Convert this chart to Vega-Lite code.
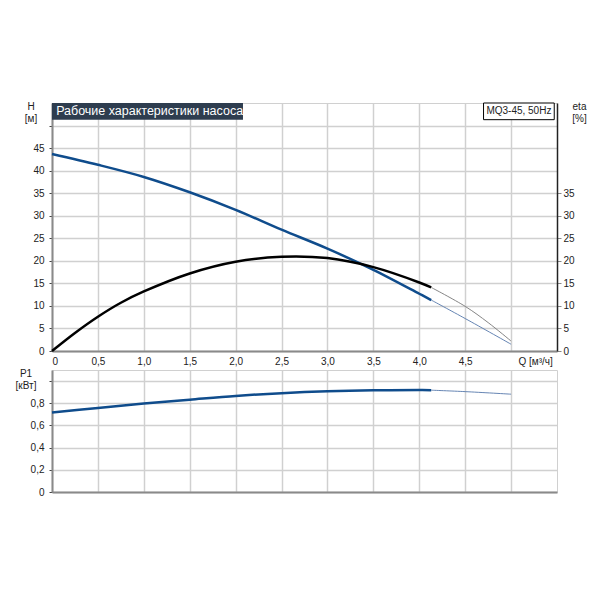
{
  "$schema": "https://vega.github.io/schema/vega-lite/v6.json",
  "padding": {"left": 14, "top": 100, "right": 0, "bottom": 0},
  "background": "white",
  "config": {
    "view": {"stroke": "#d0d0d0", "strokeWidth": 1},
    "concat": {"spacing": 0},
    "font": "Liberation Sans",
    "axis": {
      "labelFont": "Liberation Sans", "labelFontSize": 10, "labelColor": "#222", "labelOverlap": false,
      "titleFont": "Liberation Sans", "titleFontSize": 10, "titleFontWeight": "normal", "titleColor": "#222",
      "gridColor": "#d0d0d0", "gridWidth": 1.5, "domainColor": "#8a8a8a", "domainWidth": 2
    }
  },
  "datasets": {
    "H_main": [{"q":0,"h":43.7},{"q":0.5,"h":41.3},{"q":1.0,"h":38.6},{"q":1.5,"h":35.2},{"q":2.0,"h":31.3},{"q":2.5,"h":26.9},{"q":3.0,"h":22.7},{"q":3.5,"h":18.0},{"q":4.0,"h":12.7},{"q":4.13,"h":11.3}],
    "H_ext": [{"q":4.13,"h":11.3},{"q":4.5,"h":7.2},{"q":5.0,"h":1.5}],
    "E_main": [{"q":0,"eta":0},{"q":0.25,"eta":4.0},{"q":0.5,"eta":7.6},{"q":0.75,"eta":10.7},{"q":1.0,"eta":13.2},{"q":1.5,"eta":17.2},{"q":2.0,"eta":19.8},{"q":2.5,"eta":20.9},{"q":3.0,"eta":20.6},{"q":3.5,"eta":18.6},{"q":4.0,"eta":15.2},{"q":4.13,"eta":14.1}],
    "E_ext": [{"q":4.13,"eta":14.1},{"q":4.5,"eta":9.9},{"q":4.75,"eta":6.3},{"q":5.0,"eta":2.2}],
    "P_main": [{"q":0,"p":0.717},{"q":0.5,"p":0.757},{"q":1.0,"p":0.797},{"q":1.5,"p":0.832},{"q":2.0,"p":0.866},{"q":2.5,"p":0.891},{"q":3.0,"p":0.908},{"q":3.5,"p":0.917},{"q":4.0,"p":0.919},{"q":4.13,"p":0.918}],
    "P_ext": [{"q":4.13,"p":0.918},{"q":4.5,"p":0.905},{"q":5.0,"p":0.882}],
    "ann": [{"title":"Рабочие характеристики насоса","legend":"MQ3-45, 50Hz"}]
  },
  "vconcat": [
    {
      "width": 505,
      "height": 248,
      "resolve": {"axis": {"y": "independent"}},
      "layer": [
        {
          "data": {"name": "H_main"},
          "mark": {"type": "line", "color": "#0f4c8c", "strokeWidth": 2.5, "interpolate": "catmull-rom"},
          "encoding": {
            "x": {"field": "q", "type": "quantitative", "scale": {"domain": [0, 5.5], "nice": false},
              "axis": {"values": [0,0.5,1,1.5,2,2.5,3,3.5,4,4.5,5], "tickCount": 30, "ticks": false, "labelPadding": 5,
                "labelExpr": "datum.value == 0 ? '0' : (datum.value >= 5 ? '' : replace(format(datum.value, '.1f'), '.', ','))",
                "title": "Q [м³/ч]", "titleFontSize": 10, "titleX": 466, "titleY": 5, "titleAlign": "left", "titleBaseline": "top", "titleAnchor": "start"}},
            "y": {"field": "h", "type": "quantitative", "scale": {"domain": [0, 55], "nice": false},
              "axis": {"orient": "left", "values": [0,5,10,15,20,25,30,35,40,45,50], "tickCount": 30, "tickSize": 3, "tickColor": "#444", "labelPadding": 5,
                "labelExpr": "datum.value >= 50 ? '' : datum.label",
                "title": ["H", "[м]"], "titleAngle": 0, "titleX": -21.5, "titleY": -2, "titleAlign": "center", "titleBaseline": "top", "titleLineHeight": 12}}
          }
        },
        {
          "data": {"name": "H_ext"},
          "mark": {"type": "line", "color": "#5577aa", "strokeWidth": 0.9, "interpolate": "catmull-rom"},
          "encoding": {
            "x": {"field": "q", "type": "quantitative"},
            "y": {"field": "h", "type": "quantitative", "axis": null}
          }
        },
        {
          "data": {"name": "E_main"},
          "mark": {"type": "line", "color": "#000000", "strokeWidth": 2.5, "interpolate": "catmull-rom"},
          "encoding": {
            "x": {"field": "q", "type": "quantitative"},
            "y": {"field": "eta", "type": "quantitative",
              "axis": {"orient": "right", "values": [0,5,10,15,20,25,30,35], "tickCount": 30, "grid": false, "tickSize": 4, "tickColor": "#888", "labelPadding": 2,
                "domainColor": "#222", "domainWidth": 1.5,
                "title": ["eta", "[%]"], "titleAngle": 0, "titleX": 22, "titleY": -2, "titleAlign": "center", "titleBaseline": "top", "titleLineHeight": 12}}
          }
        },
        {
          "data": {"name": "E_ext"},
          "mark": {"type": "line", "color": "#777777", "strokeWidth": 0.9, "interpolate": "catmull-rom"},
          "encoding": {
            "x": {"field": "q", "type": "quantitative"},
            "y": {"field": "eta", "type": "quantitative", "axis": null}
          }
        },
        {
          "data": {"name": "ann"},
          "mark": {"type": "rect", "color": "#2e3d4f"},
          "encoding": {
            "x": {"datum": 0, "type": "quantitative"},
            "x2": {"datum": 2.08},
            "y": {"datum": 55, "type": "quantitative", "axis": null},
            "y2": {"datum": 51.3}
          }
        },
        {
          "data": {"name": "ann"},
          "mark": {"type": "text", "color": "white", "fontSize": 12.5, "align": "left", "baseline": "middle", "font": "Liberation Sans"},
          "encoding": {
            "x": {"datum": 0.045, "type": "quantitative"},
            "y": {"datum": 53.2, "type": "quantitative", "axis": null},
            "text": {"field": "title"}
          }
        },
        {
          "data": {"name": "ann"},
          "mark": {"type": "rect", "fill": "white", "stroke": "#000000", "strokeWidth": 1},
          "encoding": {
            "x": {"datum": 4.7, "type": "quantitative"},
            "x2": {"datum": 5.47},
            "y": {"datum": 55, "type": "quantitative", "axis": null},
            "y2": {"datum": 51.3}
          }
        },
        {
          "data": {"name": "ann"},
          "mark": {"type": "text", "color": "#222", "fontSize": 10, "align": "center", "baseline": "middle", "font": "Liberation Sans"},
          "encoding": {
            "x": {"datum": 5.085, "type": "quantitative"},
            "y": {"datum": 53.2, "type": "quantitative", "axis": null},
            "text": {"field": "legend"}
          }
        }
      ]
    },
    {
      "width": 505,
      "height": 122,
      "layer": [
        {
          "data": {"name": "P_main"},
          "mark": {"type": "line", "color": "#0f4c8c", "strokeWidth": 2.5, "interpolate": "catmull-rom"},
          "encoding": {
            "x": {"field": "q", "type": "quantitative", "scale": {"domain": [0, 5.5], "nice": false},
              "axis": {"values": [0,0.5,1,1.5,2,2.5,3,3.5,4,4.5,5], "tickCount": 30, "ticks": false, "labels": false, "title": null}},
            "y": {"field": "p", "type": "quantitative", "scale": {"domain": [0, 1.1], "nice": false},
              "axis": {"values": [0,0.2,0.4,0.6,0.8,1.0], "tickCount": 30, "tickSize": 3, "tickColor": "#444", "labelPadding": 5,
                "labelExpr": "datum.value >= 1 ? '' : (datum.value == 0 ? '0' : replace(format(datum.value, '.1f'), '.', ','))",
                "title": ["P1", "[кВт]"], "titleAngle": 0, "titleX": -26.5, "titleY": -2, "titleAlign": "center", "titleBaseline": "top", "titleLineHeight": 12}}
          }
        },
        {
          "data": {"name": "P_ext"},
          "mark": {"type": "line", "color": "#5577aa", "strokeWidth": 0.9, "interpolate": "catmull-rom"},
          "encoding": {
            "x": {"field": "q", "type": "quantitative"},
            "y": {"field": "p", "type": "quantitative"}
          }
        }
      ]
    }
  ]
}
